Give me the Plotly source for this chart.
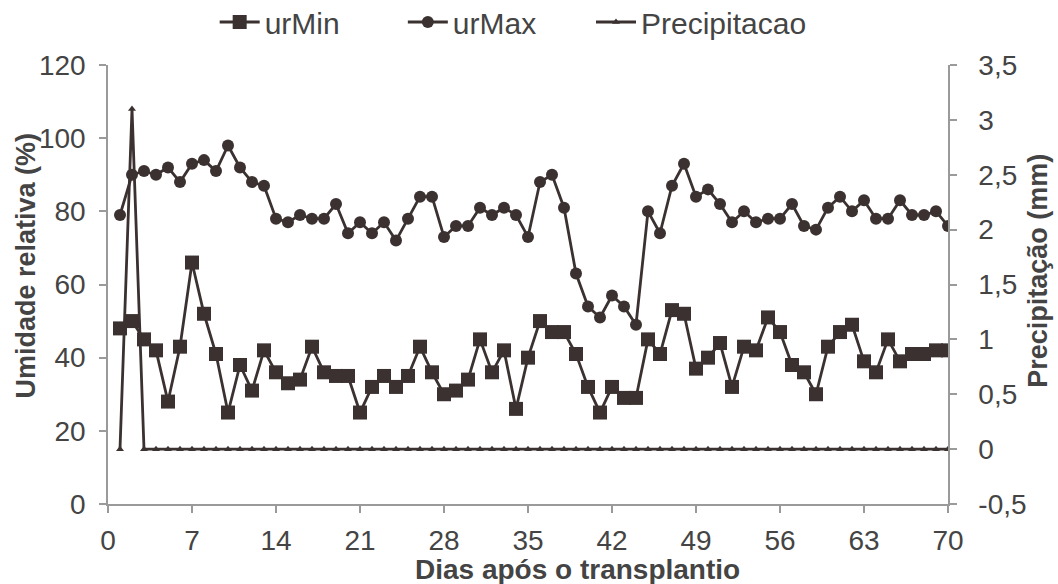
import plotly.graph_objects as go

days = list(range(1, 71))
ur_min = [48, 50, 45, 42, 28, 43, 66, 52, 41, 25,
          38, 31, 42, 36, 33, 34, 43, 36, 35, 35,
          25, 32, 35, 32, 35, 43, 36, 30, 31, 34,
          45, 36, 42, 26, 40, 50, 47, 47, 41, 32,
          25, 32, 29, 29, 45, 41, 53, 52, 37, 40,
          44, 32, 43, 42, 51, 47, 38, 36, 30, 43,
          47, 49, 39, 36, 45, 39, 41, 41, 42, 42]
ur_max = [79, 90, 91, 90, 92, 88, 93, 94, 91, 98,
          92, 88, 87, 78, 77, 79, 78, 78, 82, 74,
          77, 74, 77, 72, 78, 84, 84, 73, 76, 76,
          81, 79, 81, 79, 73, 88, 90, 81, 63, 54,
          51, 57, 54, 49, 80, 74, 87, 93, 84, 86,
          82, 77, 80, 77, 78, 78, 82, 76, 75, 81,
          84, 80, 83, 78, 78, 83, 79, 79, 80, 76]
precip = [0, 3.1] + [0] * 68

x_ticks = list(range(0, 71, 7))
y2_tickvals = [-0.5, 0, 0.5, 1, 1.5, 2, 2.5, 3, 3.5]
y2_ticktext = ["-0,5", "0", "0,5", "1", "1,5", "2", "2,5", "3", "3,5"]

x_title = "Dias após o transplantio"
y_title = "Umidade relativa (%)"
y2_title = "Precipitação (mm)"

line_col = "#3b3131"
text_col = "#444444"
axis_col = "#9a9a9a"
font_reg = "Liberation Sans, Arial, sans-serif"

fig = go.Figure()
fig.add_trace(go.Scatter(x=days, y=ur_min, name="urMin", mode="lines+markers",
                         legend="legend",
                         line=dict(color=line_col, width=2.8),
                         marker=dict(symbol="square", size=14, color=line_col)))
fig.add_trace(go.Scatter(x=days, y=ur_max, name="urMax", mode="lines+markers",
                         legend="legend2",
                         line=dict(color=line_col, width=2.8),
                         marker=dict(symbol="circle", size=12, color=line_col)))
fig.add_trace(go.Scatter(x=days, y=precip, name="Precipitacao", mode="lines+markers",
                         yaxis="y2", legend="legend3",
                         line=dict(color=line_col, width=2.8),
                         marker=dict(symbol="triangle-up", size=7, color=line_col)))

axis_common = dict(showline=True, linecolor=axis_col, linewidth=1.5,
                   ticks="outside", ticklen=7, tickcolor=axis_col, tickwidth=1.5,
                   showgrid=False, zeroline=False,
                   tickfont=dict(family=font_reg, size=28, color=text_col))


def legend_at(xpos):
    return dict(orientation="h", x=xpos, xanchor="left", y=1.098, yanchor="middle",
                font=dict(family=font_reg, size=30, color=text_col),
                itemwidth=40, bgcolor="rgba(0,0,0,0)")


fig.update_layout(
    width=1058, height=584,
    margin=dict(l=108, r=110, t=65, b=80, autoexpand=False),
    paper_bgcolor="white", plot_bgcolor="white",
    separators=",.",
    font=dict(family=font_reg, size=22, color=text_col),
    showlegend=True,
    legend=legend_at(0.127),
    legend2=legend_at(0.351),
    legend3=legend_at(0.575),
    xaxis=dict(range=[0, 70], tickvals=x_ticks, ticklabelstandoff=4,
               **axis_common),
    yaxis=dict(range=[0, 120], dtick=20, ticklabelstandoff=8, **axis_common),
    yaxis2=dict(range=[-0.5, 3.5], tickvals=y2_tickvals, ticktext=y2_ticktext,
                overlaying="y", side="right",
                ticklabelstandoff=16, **axis_common),
    annotations=[
        dict(text="<b>" + x_title + "</b>", xref="paper", yref="paper",
             x=0.5595, y=-0.149, xanchor="center", yanchor="middle", showarrow=False,
             font=dict(family=font_reg, size=28, color=text_col)),
        dict(text="<b>" + y_title + "</b>", xref="paper", yref="paper",
             x=-0.097, y=0.542, xanchor="center", yanchor="middle", showarrow=False,
             textangle=-90, font=dict(family=font_reg, size=27, color=text_col)),
        dict(text="<b>" + y2_title + "</b>", xref="paper", yref="paper",
             x=1.107, y=0.531, xanchor="center", yanchor="middle", showarrow=False,
             textangle=-90, font=dict(family=font_reg, size=27, color=text_col)),
    ],
)

fig.write_html("out.html")
